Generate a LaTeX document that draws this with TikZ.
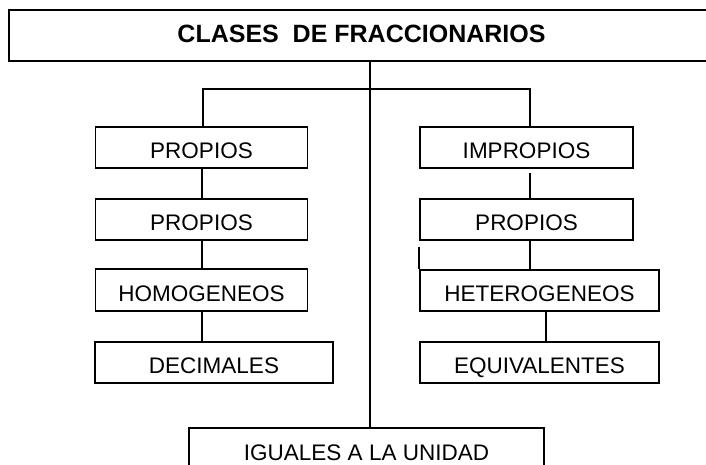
\documentclass[tikz,border=0pt]{standalone}
\usepackage{fontspec}
\setmainfont{Liberation Sans}
\begin{document}
\begin{tikzpicture}[x=1pt,y=-1pt,
  line width=1.6pt,
  box/.style={draw=black, line width=1.6pt, minimum height=41.5pt, inner sep=0pt,
    text height=22pt, text depth=0pt, font=\fontsize{22.5}{27}\selectfont},
  titlebox/.style={draw=black, line width=1.6pt, minimum height=51pt, inner sep=0pt,
    text height=14.5pt, text depth=0pt, font=\bfseries\fontsize{25}{30}\selectfont},
  link/.style={draw=black, line width=1.6pt}]
\useasboundingbox (0,0) rectangle (706,465);
\clip (0,0) rectangle (706,465);
\fill[white] (0,0) rectangle (706,465);
% title
\node[titlebox, minimum width=705pt] (title) at (361.5,35.5) {CLASES\ \ DE FRACCIONARIOS};
% left column
\node[box, minimum width=212pt] (p1) at (201.5,147.5) {PROPIOS};
\node[box, minimum width=212pt] (p2) at (201.5,219.5) {PROPIOS};
\node[box, minimum width=212pt] (homog) at (201.5,290) {HOMOGENEOS};
\node[box, minimum width=238pt] (dec) at (214,362.5) {DECIMALES};
% right column
\node[box, minimum width=213pt] (imp) at (526.5,147.5) {IMPROPIOS};
\node[box, minimum width=213pt] (p2r) at (526.5,219.5) {PROPIOS};
\node[box, minimum width=239pt] (het) at (539.5,290.5) {HETEROGENEOS};
\node[box, minimum width=239pt] (eq) at (539.5,362.5) {EQUIVALENTES};
% bottom
\node[box, minimum width=355pt] (ig) at (366.5,449) {IGUALES A LA UNIDAD};
% branch
\coordinate (bj) at (370,89);
\draw[link] (title.south -| bj) -- (ig.north -| bj);
\draw[link] ([xshift=1.5pt]p1.north) |- (bj) -| ([xshift=3.5pt]imp.north);
% left connectors
\draw[link] ([xshift=0.5pt]p1.south) -- ([xshift=0.5pt]p2.north);
\draw[link] ([xshift=0.5pt]p2.south) -- ([xshift=0.5pt]homog.north);
\draw[link] ([xshift=0.5pt]homog.south) -- ([xshift=0.5pt]homog.south |- dec.north);
% right connectors
\draw[link] ([xshift=3.5pt,yshift=-4pt]imp.south) -- ([xshift=3.5pt]p2r.north);
\draw[link] ([xshift=3.5pt]p2r.south) -- ([xshift=3.5pt]p2r.south |- het.north);
\draw[link] ([xshift=6.5pt]het.south) -- ([xshift=6.5pt]het.south |- eq.north);
\coordinate (stray) at ([yshift=22pt]het.north west);
\draw[link] (het.north west) -- (stray);
\end{tikzpicture}
\end{document}
